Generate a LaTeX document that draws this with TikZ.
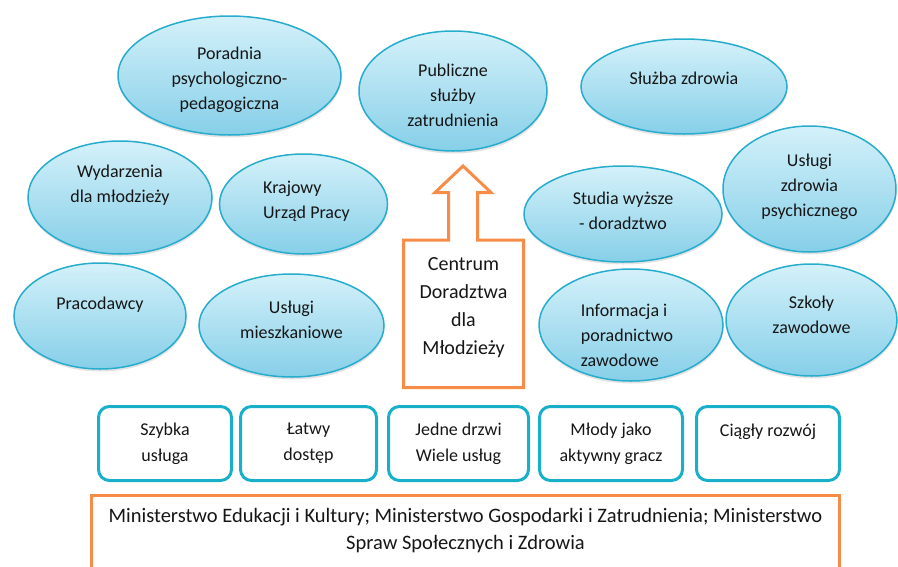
\documentclass[tikz,border=0pt]{standalone}
\usepackage{fontspec}
\setmainfont{Carlito}
\usetikzlibrary{shapes.geometric, shadows}
\definecolor{bubbleline}{RGB}{40,172,205}
\definecolor{bubbletop}{RGB}{212,241,250}
\definecolor{bubblebot}{RGB}{134,207,232}
\definecolor{boxline}{RGB}{24,176,200}
\definecolor{orangeline}{RGB}{246,140,72}
\definecolor{ink}{RGB}{22,22,22}
\tikzset{
  bubble/.style={ellipse, draw=bubbleline, line width=1.5pt, top color=bubbletop,
    bottom color=bubblebot, inner sep=0pt,
    drop shadow={shadow xshift=0.5pt, shadow yshift=-2.5pt, opacity=0.22}},
  bubbletext/.style={align=center, text=ink, inner sep=0pt, font=\fontsize{18}{25}\selectfont},
  valuebox/.style={draw=boxline, line width=3pt, rounded corners=11pt, minimum height=74pt,
    align=center, text=ink, font=\fontsize{18}{26}\selectfont},
  orangeline/.style={draw=orangeline, line width=3pt},
  bigtext/.style={align=center, text=ink, font=\fontsize{20}{28}\selectfont}
}

\begin{document}
\begin{tikzpicture}[x=1pt, y=-1pt]
  \clip (0,0) rectangle (898,566);
  % upper row of partners
  \node[bubble, minimum width=223pt, minimum height=119pt,
    label={[bubbletext, yshift=-4.5pt]center:Poradnia\\psychologiczno-\\pedagogiczna}] (poradnia) at (229.5,75.5) {};
  \node[bubble, minimum width=188pt, minimum height=120pt,
    label={[bubbletext, yshift=-4pt]center:Publiczne\\służby\\zatrudnienia}] (publiczne) at (453,91) {};
  \node[bubble, minimum width=206pt, minimum height=95pt,
    label={[bubbletext, yshift=8.5pt]center:Służba zdrowia}] (sluzba) at (684,86.5) {};
  % middle row
  \node[bubble, minimum width=184pt, minimum height=113pt,
    label={[bubbletext, yshift=12pt]center:Wydarzenia\\dla młodzieży}] (wydarzenia) at (120,197.5) {};
  \node[bubble, minimum width=168pt, minimum height=100pt,
    label={[bubbletext, align=left, xshift=3pt, yshift=3pt]center:Krajowy\\Urząd Pracy}] (krajowy) at (303.5,204) {};
  \node[bubble, minimum width=198pt, minimum height=96pt,
    label={[bubbletext, yshift=3pt]center:Studia wyższe\\- doradztwo}] (studia) at (623,214) {};
  \node[bubble, minimum width=173pt, minimum height=126pt,
    label={[bubbletext, yshift=2pt]center:Usługi\\zdrowia\\psychicznego}] (psychiczne) at (809.5,189) {};
  % lower row
  \node[bubble, minimum width=172pt, minimum height=106pt,
    label={[bubbletext, yshift=11pt]center:Pracodawcy}] (pracodawcy) at (100,316) {};
  \node[bubble, minimum width=185pt, minimum height=103pt,
    label={[bubbletext, yshift=5.5pt]center:Usługi\\mieszkaniowe}] (mieszkaniowe) at (291.5,325.5) {};
  \node[bubble, minimum width=184pt, minimum height=112pt,
    label={[bubbletext, align=left, xshift=-4pt, yshift=-10pt]center:Informacja i\\poradnictwo\\zawodowe}] (informacja) at (631,325) {};
  \node[bubble, minimum width=171pt, minimum height=112pt,
    label={[bubbletext, yshift=5.5pt]center:Szkoły\\zawodowe}] (szkoly) at (811.5,320) {};

  % centre with arrow
  \node[bigtext] (centrum) at (463.5,307.5) {Centrum\\Doradztwa\\dla\\Młodzieży};
  \draw[orangeline, line join=miter] (448.5,240) -- (403.5,240) -- (403.5,387.5) -- (523.5,387.5)
    -- (523.5,240) -- (477.5,240) -- (477.5,192.5) -- (491,192.5) -- (463,166)
    -- (435,192.5) -- (448.5,192.5) -- cycle;

  % values
  \node[valuebox, minimum width=133pt] (szybka) at (165,443.5) {Szybka\\usługa};
  \node[valuebox, minimum width=136pt] (latwy) at (308.5,443.5) {Łatwy\\dostęp};
  \node[valuebox, minimum width=140pt] (drzwi) at (458.5,443.5) {Jedne drzwi\\Wiele usług};
  \node[valuebox, minimum width=143pt] (mlody) at (611,443.5) {Młody jako\\aktywny gracz};
  \node[valuebox, minimum width=143pt] (rozwoj) at (768,443.5) {Ciągły rozwój\\\mbox{}};

  % ministries
  \draw[orangeline] (91.5,495.5) rectangle (839.5,600);
  \node[bigtext, font=\fontsize{20.5}{27}\selectfont] (ministerstwa) at (465.5,531) {Ministerstwo Edukacji i Kultury; Ministerstwo Gospodarki i Zatrudnienia; Ministerstwo\\Spraw Społecznych i Zdrowia};
\end{tikzpicture}
\end{document}
